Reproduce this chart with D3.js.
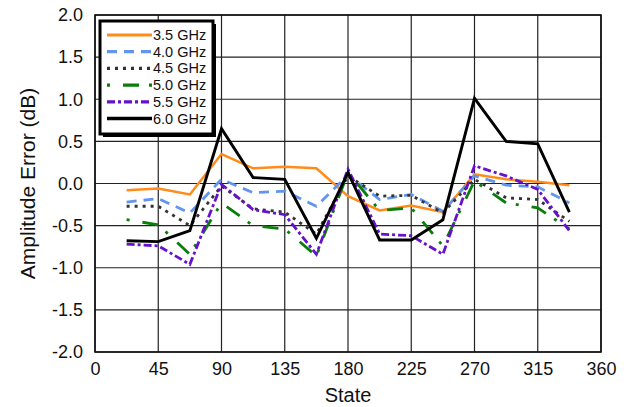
<!DOCTYPE html>
<html>
<head>
<meta charset="utf-8">
<script src="https://cdn.jsdelivr.net/npm/d3@7"></script>
<style>
  body { margin: 0; background: #fff; }
  text { font-family: "Liberation Sans", Arial, sans-serif; fill: #111; }
</style>
</head>
<body>
<div id="chart"></div>
<script>
const States = [22.5, 45, 67.5, 90, 112.5, 135, 157.5, 180, 202.5, 225, 247.5, 270, 292.5, 315, 337.5];

const Err35 = [-0.08, -0.06, -0.13, 0.35, 0.18, 0.2, 0.18, -0.15, -0.32, -0.26, -0.34, 0.11, 0.05, 0.02, -0.02];
const Err40 = [-0.22, -0.18, -0.35, 0.05, -0.11, -0.09, -0.27, 0.1, -0.19, -0.13, -0.33, 0.09, -0.02, -0.04, -0.23];
const Err45 = [-0.27, -0.27, -0.5, -0.03, -0.3, -0.34, -0.6, 0.09, -0.15, -0.14, -0.35, 0.05, -0.17, -0.19, -0.45];
const Err50 = [-0.43, -0.49, -0.84, -0.23, -0.5, -0.54, -0.86, 0.13, -0.32, -0.29, -0.74, 0.03, -0.23, -0.29, -0.54];
const Err55 = [-0.72, -0.74, -0.96, -0.01, -0.31, -0.37, -0.84, 0.17, -0.6, -0.62, -0.84, 0.21, 0.09, -0.07, -0.56];
const Err60 = [-0.68, -0.69, -0.56, 0.65, 0.07, 0.05, -0.65, 0.13, -0.67, -0.67, -0.43, 1.01, 0.5, 0.47, -0.34];

const XTicks = [0, 45, 90, 135, 180, 225, 270, 315, 360];
const YTicks = [-2, -1.5, -1, -0.5, 0, 0.5, 1, 1.5, 2];

const Series = [
    { label: "3.5 GHz", values: Err35, color: "#ff8c1a", dash: null,          width: 2.5 },
    { label: "4.0 GHz", values: Err40, color: "#6495ed", dash: "10,7",        width: 2.8 },
    { label: "4.5 GHz", values: Err45, color: "#333333", dash: "3,5",         width: 2.8 },
    { label: "5.0 GHz", values: Err50, color: "#0a7d0a", dash: "3,13,16,10",  width: 2.8 },
    { label: "5.5 GHz", values: Err55, color: "#6611cc", dash: "8,3,3,3",     width: 2.8 },
    { label: "6.0 GHz", values: Err60, color: "#000000", dash: null,          width: 2.9 },
];

const width = 631, height = 407;
const margin = { top: 15, right: 30, bottom: 55, left: 95 };

// plain hyphen for negatives, like the original
const fmt1 = d => d3.format(".1f")(d).replace("\u2212", "-");

const svg = d3.select("#chart").append("svg")
    .attr("width", width)
    .attr("height", height);

const x = d3.scaleLinear().domain([0, 360]).range([margin.left, width - margin.right]);
const y = d3.scaleLinear().domain([-2, 2]).range([height - margin.bottom, margin.top]);

// grid
svg.append("g")
    .selectAll("line.vgrid")
    .data(XTicks)
    .enter().append("line")
        .attr("x1", d => x(d)).attr("x2", d => x(d))
        .attr("y1", y(-2)).attr("y2", y(2))
        .attr("stroke", "#222").attr("stroke-width", 1.2);

svg.append("g")
    .selectAll("line.hgrid")
    .data(YTicks)
    .enter().append("line")
        .attr("x1", x(0)).attr("x2", x(360))
        .attr("y1", d => y(d)).attr("y2", d => y(d))
        .attr("stroke", "#222").attr("stroke-width", 1.2);

// axes
const xAxis = svg.append("g")
    .attr("transform", `translate(0,${y(-2)})`)
    .call(d3.axisBottom(x).tickValues(XTicks).tickSize(0).tickPadding(10).tickFormat(d3.format("d")));
xAxis.select(".domain").remove();
xAxis.selectAll("text").style("font-size", "18px");

const yAxis = svg.append("g")
    .attr("transform", `translate(${x(0)},0)`)
    .call(d3.axisLeft(y).tickValues(YTicks).tickSize(0).tickPadding(12).tickFormat(fmt1));
yAxis.select(".domain").remove();
yAxis.selectAll("text").style("font-size", "18px");

// frame
svg.append("rect")
    .attr("x", x(0)).attr("y", y(2))
    .attr("width", x(360) - x(0)).attr("height", y(-2) - y(2))
    .attr("fill", "none").attr("stroke", "#111").attr("stroke-width", 1.6);

// axis titles
svg.append("text")
    .attr("x", (x(0) + x(360)) / 2).attr("y", 402)
    .attr("text-anchor", "middle")
    .style("font-size", "20px")
    .text("State");

svg.append("text")
    .attr("transform", `translate(35,${(y(2) + y(-2)) / 2}) rotate(-90)`)
    .attr("text-anchor", "middle")
    .style("font-size", "21px")
    .text("Amplitude Error (dB)");

// lines
const line = d3.line()
    .x((d, i) => x(States[i]))
    .y(d => y(d));

svg.append("g")
    .selectAll("path")
    .data(Series)
    .enter().append("path")
        .attr("d", d => line(d.values))
        .attr("fill", "none")
        .attr("stroke", d => d.color)
        .attr("stroke-width", d => d.width)
        .attr("stroke-dasharray", d => d.dash)
        .attr("stroke-linejoin", "miter");

// legend
const legend = svg.append("g").attr("transform", "translate(100,21)");

legend.append("rect")
    .attr("x", 3).attr("y", 3).attr("width", 113).attr("height", 113)
    .attr("fill", "#000");
legend.append("rect")
    .attr("x", 0).attr("y", 0).attr("width", 113).attr("height", 113)
    .attr("fill", "#fff").attr("stroke", "#000").attr("stroke-width", 3);

const items = legend.selectAll("g.item")
    .data(Series)
    .enter().append("g")
        .attr("transform", (d, i) => `translate(0,${14 + i * 16.7})`);

items.append("line")
    .attr("x1", 7).attr("x2", 52)
    .attr("stroke", d => d.color)
    .attr("stroke-width", d => d.width + 0.4)
    .attr("stroke-dasharray", d => d.dash);

items.append("text")
    .attr("x", 53).attr("y", 5)
    .style("font-size", "14.5px")
    .text(d => d.label);
</script>
</body>
</html>
